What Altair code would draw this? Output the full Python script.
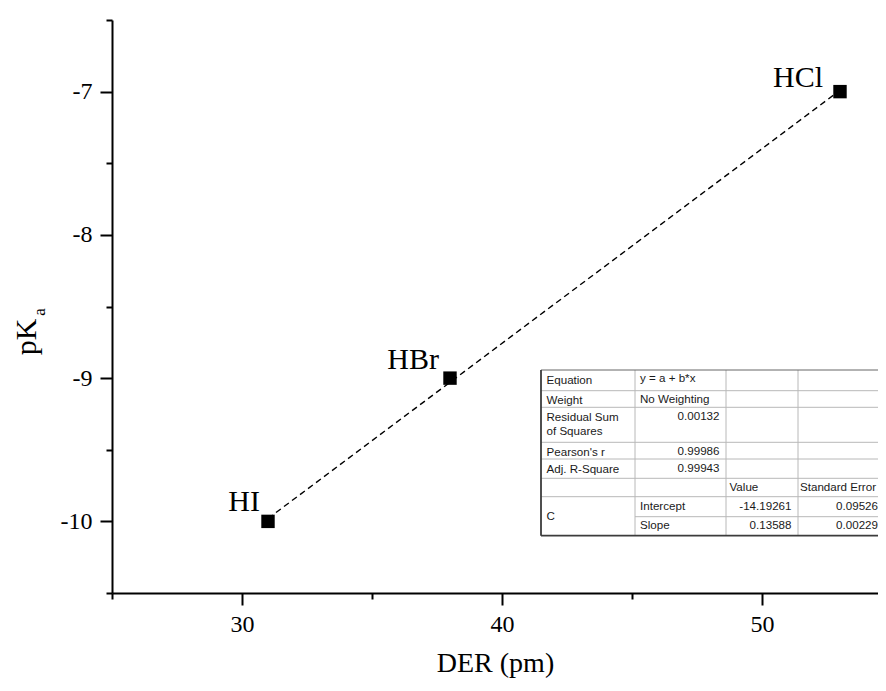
import altair as alt
import pandas as pd

# ---------------- data ----------------
acids = ["HI", "HBr", "HCl"]
der_pm = [31, 38, 53]
pka = [-10, -9, -7]

# fit report table (Origin style)
tbl_col0 = ["Equation", "Weight", "Residual Sum\nof Squares", "Pearson's r", "Adj. R-Square", "", "C"]
tbl_col1 = ["y = a + b*x", "No Weighting", "Intercept", "Slope"]
tbl_col1_num = ["0.00132", "0.99986", "0.99943"]
tbl_col2 = ["Value"]
tbl_col2_num = ["-14.19261", "0.13588"]
tbl_col3 = ["Standard Error"]
tbl_col3_num = ["0.09526", "0.00229"]

x_ticks = [25, 30, 35, 40, 45, 50]
y_ticks = [-10.5, -10, -9.5, -9, -8.5, -8, -7.5, -7, -6.5]

# ---------------- layout ----------------
SERIF = "Liberation Serif"
SANS = "Liberation Sans"
W, H = 766, 573
label_offsets = {"HI": (-8, -10), "HBr": (-11, -9), "HCl": (-17, -5)}

df = pd.DataFrame({"acid": acids, "der": der_pm, "pka": pka})

xscale = alt.Scale(domain=[25, 25 + W / 26.0], nice=False, zero=False)
yscale = alt.Scale(domain=[-10.5, -6.5], nice=False, zero=False)

x_axis = alt.Axis(
    values=x_ticks,
    labelExpr="datum.value % 10 === 0 ? '' + datum.value : ''",
    tickSize={"condition": {"test": "datum.value % 10 === 0", "value": 12}, "value": 6},
    tickWidth=2, tickColor="black", domainWidth=2, domainColor="black",
    labelFont=SERIF, labelFontSize=24, labelColor="black", labelPadding=7,
    labelOverlap=False, grid=False,
    title="DER (pm)", titleFont=SERIF, titleFontSize=28, titleFontWeight="normal",
    titleColor="black", titlePadding=13,
)
y_axis = alt.Axis(
    values=y_ticks,
    labelExpr="datum.value % 1 === 0 ? '' + datum.value : ''",
    tickSize={"condition": {"test": "datum.value % 1 === 0", "value": 12}, "value": 6},
    tickWidth=2, tickColor="black", domainWidth=2, domainColor="black",
    labelFont=SERIF, labelFontSize=24, labelColor="black", labelPadding=8,
    labelOverlap=False, grid=False, title=None,
)

base = alt.Chart(df)
X = alt.X("der:Q", scale=xscale, axis=x_axis)
Y = alt.Y("pka:Q", scale=yscale, axis=y_axis)

fit = base.transform_regression("der", "pka").mark_line(
    color="black", strokeWidth=1.4, strokeDash=[6, 4]
).encode(x=X, y=Y)

pts = base.mark_square(size=180, color="black", opacity=1).encode(x=X, y=Y)

labels = []
for a in acids:
    dx, dy = label_offsets[a]
    labels.append(
        base.transform_filter(alt.datum.acid == a)
        .mark_text(align="right", baseline="alphabetic", dx=dx, dy=dy,
                   font=SERIF, fontSize=30, color="black")
        .encode(x=X, y=Y, text="acid:N")
    )

ytitle_main = alt.Chart(pd.DataFrame({"t": ["pK"]})).mark_text(
    angle=270, align="center", baseline="alphabetic", font=SERIF, fontSize=30, color="black"
).encode(x=alt.value(-76), y=alt.value(317), text="t:N")
ytitle_sub = alt.Chart(pd.DataFrame({"t": ["a"]})).mark_text(
    angle=270, align="center", baseline="alphabetic", font=SERIF, fontSize=17, color="black"
).encode(x=alt.value(-67), y=alt.value(292), text="t:N")

main = alt.layer(fit, pts, *labels, ytitle_main, ytitle_sub)

# ---------------- inset table (own local scales) ----------------
cols = [0, 94, 185, 257, 352]
rows = [0, 20.7, 37.3, 72.3, 89, 108.3, 126.7, 146.7, 165.7]
TX = alt.Scale(domain=[0, 352], range=[429, 429 + 352], nice=False, zero=False)
TY = alt.Scale(domain=[0, 165.7], range=[350, 350 + 165.7], nice=False, zero=False)
TFS = 11.6

bg = alt.Chart(pd.DataFrame({"x1": [0], "x2": [cols[-1]], "y1": [0], "y2": [rows[-1]]})).mark_rect(
    fill="white"
).encode(x=alt.X("x1:Q", scale=TX, axis=None), x2="x2:Q",
         y=alt.Y("y1:Q", scale=TY, axis=None), y2="y2:Q")

inner = []
for r in rows[1:7]:
    inner.append((0, cols[-1], r, r))
inner.append((cols[1], cols[-1], rows[7], rows[7]))
for c in cols[1:4]:
    inner.append((c, c, 0, rows[-1]))
inner_df = pd.DataFrame(inner, columns=["x1", "x2", "y1", "y2"])
inner_rules = alt.Chart(inner_df).mark_rule(color="#b8b8b8", strokeWidth=1).encode(
    x=alt.X("x1:Q", scale=TX, axis=None), x2="x2:Q",
    y=alt.Y("y1:Q", scale=TY, axis=None), y2="y2:Q")

outer_df = pd.DataFrame([(0, cols[-1], 0, 0)], columns=["x1", "x2", "y1", "y2"])
outer_top = alt.Chart(outer_df).mark_rule(color="#666666", strokeWidth=1).encode(
    x=alt.X("x1:Q", scale=TX, axis=None), x2="x2:Q",
    y=alt.Y("y1:Q", scale=TY, axis=None), y2="y2:Q")
outer2_df = pd.DataFrame([(0, 0, 0, rows[-1]), (0, cols[-1], rows[-1], rows[-1])],
                         columns=["x1", "x2", "y1", "y2"])
outer_lb = alt.Chart(outer2_df).mark_rule(color="#3c3c3c", strokeWidth=1.8).encode(
    x=alt.X("x1:Q", scale=TX, axis=None), x2="x2:Q",
    y=alt.Y("y1:Q", scale=TY, axis=None), y2="y2:Q")

left_txt = []
right_txt = []
# column 0
for i, t in enumerate(tbl_col0[:6]):
    if t:
        left_txt.append((t, cols[0] + 5.5, rows[i] + 13.5))
left_txt.append((tbl_col0[6], cols[0] + 5.5, 150))
# column 1
left_txt.append((tbl_col1[0], cols[1] + 5, rows[0] + 12))
left_txt.append((tbl_col1[1], cols[1] + 5, rows[1] + 12))
left_txt.append((tbl_col1[2], cols[1] + 5, rows[6] + 13))
left_txt.append((tbl_col1[3], cols[1] + 5, rows[7] + 12.5))
for v, ri in zip(tbl_col1_num, [2, 3, 4]):
    right_txt.append((v, cols[2] - 6.5, rows[ri] + 12.5))
# column 2
left_txt.append((tbl_col2[0], cols[2] + 3.5, rows[5] + 12.5))
for v, ri in zip(tbl_col2_num, [6, 7]):
    right_txt.append((v, cols[3] - 6.5, rows[ri] + (13 if ri == 6 else 12.5)))
# column 3
left_txt.append((tbl_col3[0], cols[3] + 2, rows[5] + 12.5))
for v, ri in zip(tbl_col3_num, [6, 7]):
    right_txt.append((v, cols[4] - 15, rows[ri] + (13 if ri == 6 else 12.5)))

ltdf = pd.DataFrame(left_txt, columns=["t", "x", "y"])
rtdf = pd.DataFrame(right_txt, columns=["t", "x", "y"])

tl = alt.Chart(ltdf).mark_text(align="left", baseline="alphabetic", font=SANS, fontSize=TFS,
                               color="#1a1a1a", lineBreak="\n", lineHeight=14.5).encode(
    x=alt.X("x:Q", scale=TX, axis=None), y=alt.Y("y:Q", scale=TY, axis=None), text="t:N")
tr = alt.Chart(rtdf).mark_text(align="right", baseline="alphabetic", font=SANS, fontSize=TFS,
                               color="#1a1a1a").encode(
    x=alt.X("x:Q", scale=TX, axis=None), y=alt.Y("y:Q", scale=TY, axis=None), text="t:N")

table = alt.layer(bg, inner_rules, outer_top, outer_lb, tl, tr)

chart = alt.layer(main, table).resolve_scale(x="independent", y="independent").properties(
    width=W, height=H,
    background="white",
    autosize=alt.AutoSizeParams(type="none"),
    padding={"left": 104, "top": 12, "right": 0, "bottom": 89},
).configure_view(stroke=None)

chart.save("out.html", embed_options={"renderer": "svg", "actions": False})
